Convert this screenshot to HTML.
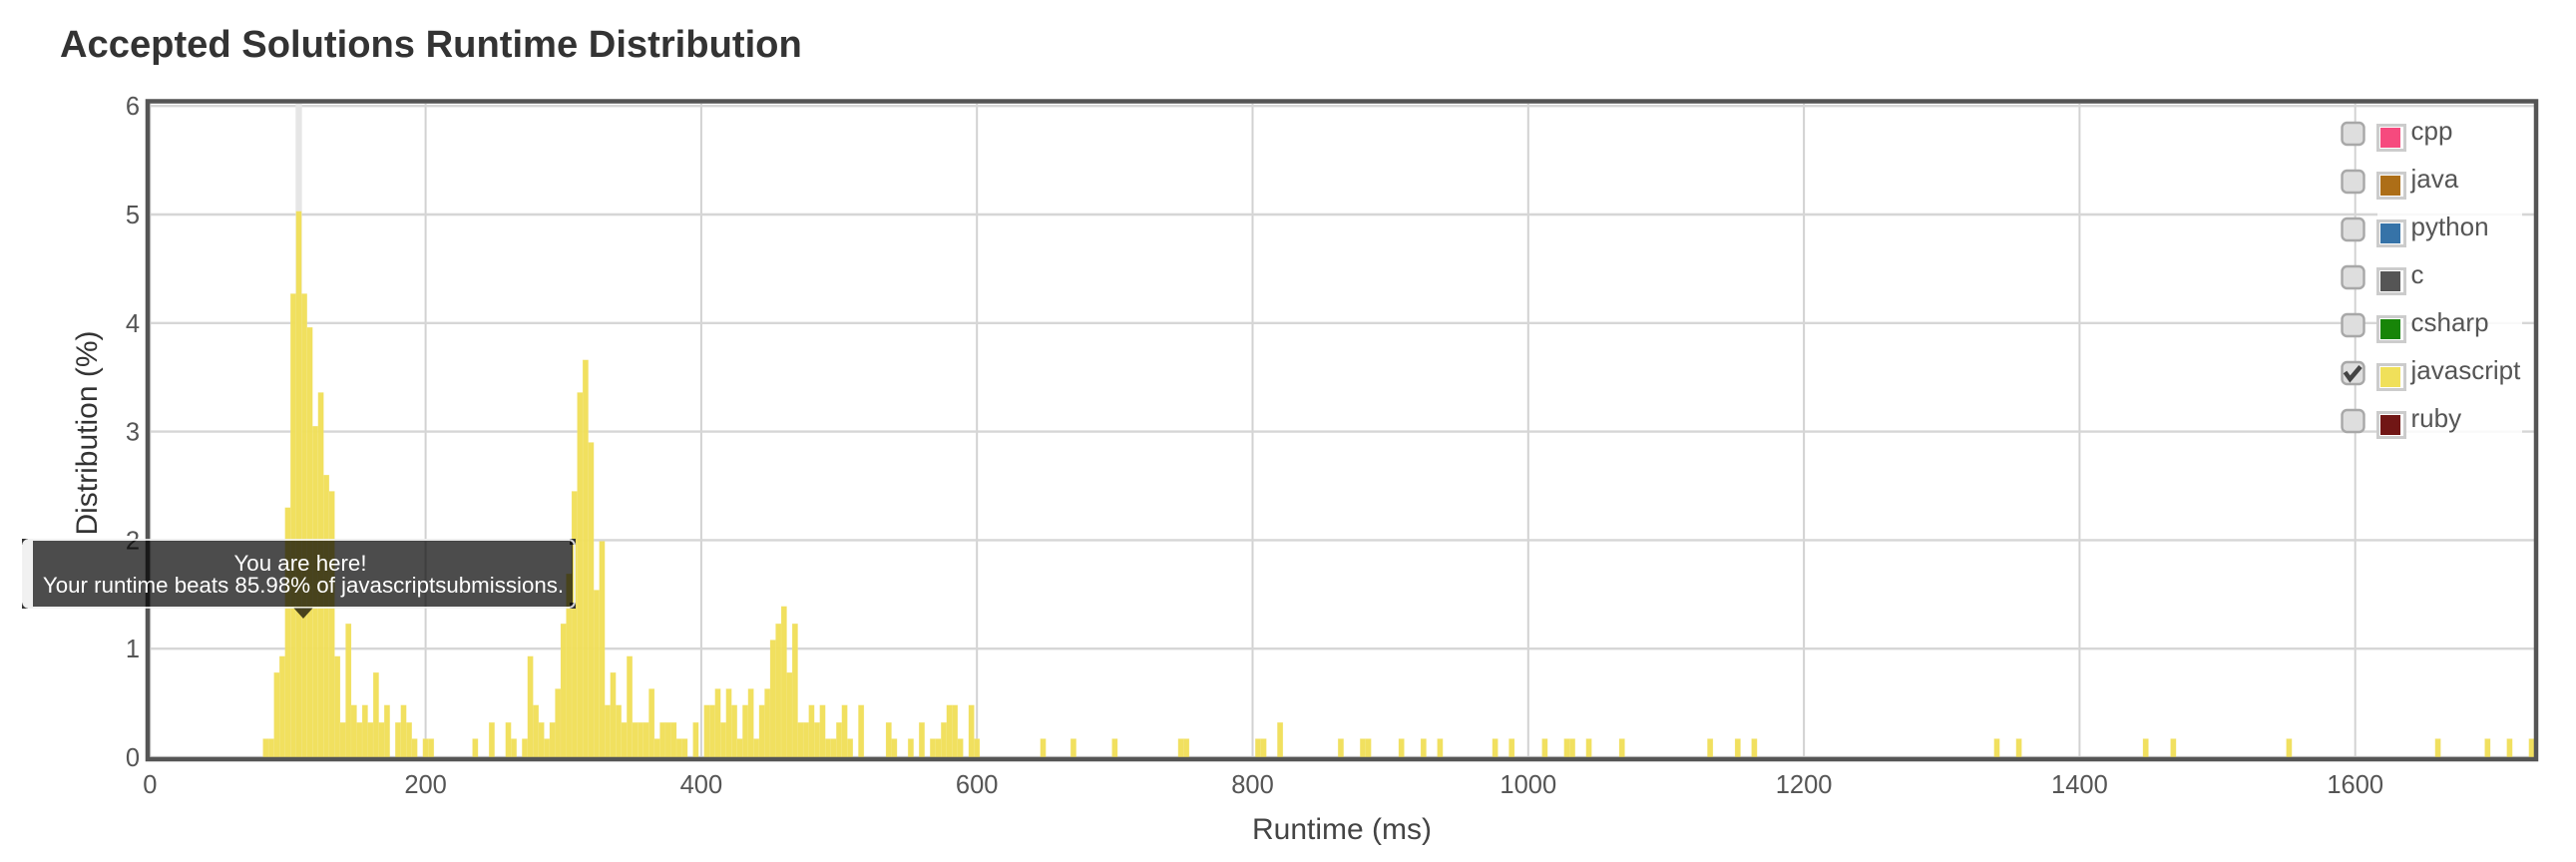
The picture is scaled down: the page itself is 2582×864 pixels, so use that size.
<!DOCTYPE html>
<html lang="en">
<head>
<meta charset="utf-8">
<title>Accepted Solutions Runtime Distribution</title>
<style>
html,body{margin:0;padding:0;background:#fff;width:2582px;height:864px;overflow:hidden;}
svg{display:block;font-family:"Liberation Sans",Arial,sans-serif;}
</style>
</head>
<body>
<svg id="chart" xmlns="http://www.w3.org/2000/svg" width="2582" height="864" viewBox="0 0 2582 864">
  <rect x="0" y="0" width="2582" height="864" fill="#ffffff"/>
  <text x="60" y="57" font-size="38.15" font-weight="bold" fill="#333333">Accepted Solutions Runtime Distribution</text>
  <g id="grid"></g>
  <g id="marker"></g>
  <g id="bars"></g>
  <rect x="148" y="101.5" width="2394" height="659.5" fill="none" stroke="#555555" stroke-width="4.5"/>
  <g id="xticks"></g>
  <g id="yticks"></g>
  <text x="1345" y="841" font-size="30" text-anchor="middle" fill="#444444">Runtime (ms)</text>
  <text transform="translate(97,434) rotate(-90)" font-size="30" text-anchor="middle" fill="#333333">Distribution (%)</text>

  <rect x="2383" y="120" width="145" height="320" fill="#ffffff" fill-opacity="0.85"/>
  <g id="legend"></g>

  <g>
    <rect x="22" y="540" width="6" height="6" fill="#333333"/>
    <rect x="22" y="604" width="6" height="6" fill="#333333"/>
    <rect x="571" y="540" width="6" height="6" fill="#333333"/>
    <rect x="571" y="604" width="6" height="6" fill="#333333"/>
    <path d="M33 541 H28 Q23 541 23 546 V604 Q23 609 28 609 H33 Z" fill="#f1f1f1"/>
    <rect x="33" y="542" width="541" height="66" fill="#000000" fill-opacity="0.7"/>
    <rect x="23" y="541" width="553" height="68" rx="6" ry="6" fill="none" stroke="#f0f0f0" stroke-opacity="0.85" stroke-width="2"/>
    <polygon points="294.5,609.5 313.5,609.5 304,620" fill="#000000" fill-opacity="0.7"/>
    <text x="301" y="572" font-size="22.3" text-anchor="middle" fill="#ffffff">You are here!</text>
    <text x="304" y="594" font-size="22.3" text-anchor="middle" fill="#ffffff">Your runtime beats 85.98% of javascriptsubmissions.</text>
  </g>
</svg>
<script>
var runtimeBins = [84,88,92,96,100,104,108,112,116,120,124,128,132,136,140,144,148,152,156,160,164,168,172,180,184,188,192,200,204,236,248,260,264,272,276,280,284,288,292,296,300,304,308,312,316,320,324,328,332,336,340,344,348,352,356,360,364,368,372,376,380,384,388,396,404,408,412,416,420,424,428,432,436,440,444,448,452,456,460,464,468,472,476,480,484,488,492,496,500,504,508,516,536,540,552,560,568,572,576,580,584,588,596,600,648,670,700,748,752,804,808,820,864,880,884,908,924,936,976,988,1012,1028,1032,1044,1068,1132,1152,1164,1340,1356,1448,1468,1552,1660,1696,1712,1728];
var javascriptDistribution = [0.17,0.17,0.78,0.93,2.3,4.27,5.03,4.27,3.96,3.05,3.36,2.6,2.45,0.93,0.32,1.23,0.48,0.32,0.48,0.32,0.78,0.32,0.48,0.32,0.48,0.32,0.17,0.17,0.17,0.17,0.32,0.32,0.17,0.17,0.93,0.48,0.32,0.17,0.32,0.63,1.23,1.69,2.45,3.36,3.66,2.9,1.54,1.99,0.48,0.78,0.48,0.32,0.93,0.32,0.32,0.32,0.63,0.17,0.32,0.32,0.32,0.17,0.17,0.32,0.48,0.48,0.63,0.32,0.63,0.48,0.17,0.48,0.63,0.17,0.48,0.63,1.08,1.23,1.39,0.78,1.23,0.32,0.32,0.48,0.32,0.48,0.17,0.17,0.32,0.48,0.17,0.48,0.32,0.17,0.17,0.32,0.17,0.17,0.32,0.48,0.48,0.17,0.48,0.17,0.17,0.17,0.17,0.17,0.17,0.17,0.17,0.32,0.17,0.17,0.17,0.17,0.17,0.17,0.17,0.17,0.17,0.17,0.17,0.17,0.17,0.17,0.17,0.17,0.17,0.17,0.17,0.17,0.17,0.17,0.17,0.17,0.17];
var xTickValues = [0,200,400,600,800,1000,1200,1400,1600];
var yTickValues = [0,1,2,3,4,5,6];
var legendLabels = ["cpp","java","python","c","csharp","javascript","ruby"];
var legendColors = ["#f64a7e","#ad6e17","#3673a8","#555555","#178508","#f0e05a","#711615"];
var checkedLanguage = "javascript";
var yourRuntimeBin = 108;
var binWidth = 4;

var NS = "http://www.w3.org/2000/svg";
function xScale(v){ return 150.3 + 1.3815 * v; }
function yScale(v){ return 759 - 108.8 * v; }
function make(tag, attrs, parent){
  var el = document.createElementNS(NS, tag);
  for (var k in attrs) el.setAttribute(k, attrs[k]);
  parent.appendChild(el);
  return el;
}

var grid = document.getElementById("grid");
xTickValues.forEach(function(t){
  var line = make("line", {x1:xScale(t), x2:xScale(t), y1:104, y2:759, stroke:"#d2d2d2", "stroke-width":2}, grid);
  
  
});
yTickValues.forEach(function(t){
  var line = make("line", {x1:150, x2:2540, y1:yScale(t), y2:yScale(t), stroke:"#d6d6d6", "stroke-width":2.4}, grid);
  
  
});

var marker = document.getElementById("marker");
var band = make("rect", {x:xScale(yourRuntimeBin)-3.2, y:104, width:6.4, height:655, fill:"#e6e6e6"}, marker);



var bars = document.getElementById("bars");
runtimeBins.forEach(function(bin, i){
  var w = xScale(binWidth) - xScale(0);
  var top = yScale(javascriptDistribution[i]);
  var bar = make("rect", {x:xScale(bin)-w/2, y:top, width:w, height:yScale(0)-top, fill:"#f0df58", "fill-opacity":0.96, stroke:"#f5ea98", "stroke-width":0.4, "stroke-opacity":0.5}, bars);
  
  
});

var xticks = document.getElementById("xticks");
xTickValues.forEach(function(t){
  var label = make("text", {x:xScale(t), y:795, "font-size":25.5, "text-anchor":"middle", fill:"#555555"}, xticks);
  label.textContent = String(t);
  
  
});

var yticks = document.getElementById("yticks");
yTickValues.forEach(function(t){
  var label = make("text", {x:140, y:yScale(t)+9, "font-size":25.5, "text-anchor":"end", fill:"#555555"}, yticks);
  label.textContent = String(t);
  
  
});

var legend = document.getElementById("legend");
legendLabels.forEach(function(name, i){
  var offset = 48 * i;
  var entry = make("g", {}, legend);
  
  
  var box = make("rect", {x:2347.5, y:123+offset, width:22, height:22, rx:5, ry:5, fill:"#dedede", stroke:"#a8a8a8", "stroke-width":2.4}, entry);
  
  
  if (name === checkedLanguage) {
    var tick = make("polyline", {points:(2350.5)+","+(133+offset)+" "+(2355.5)+","+(140+offset)+" "+(2366)+","+(127.5+offset), fill:"none", stroke:"#444444", "stroke-width":4.5}, entry);
    
    
  }
  var swatchFrame = make("rect", {x:2383.5, y:125.5+offset, width:27, height:25, fill:"#ffffff", stroke:"#cccccc", "stroke-width":3}, entry);
  
  
  var swatch = make("rect", {x:2386, y:128+offset, width:20, height:20, fill:legendColors[i]}, entry);
  
  
  var text = make("text", {x:2416.5, y:140+offset, "font-size":26, fill:"#555555"}, entry);
  text.textContent = name;
  
  
});
</script>
</body>
</html>
